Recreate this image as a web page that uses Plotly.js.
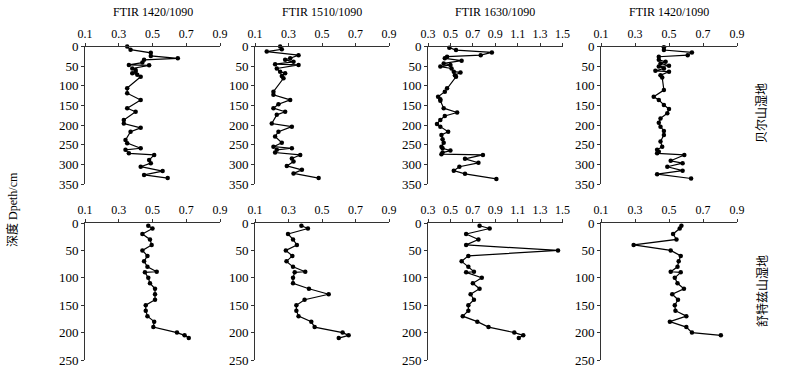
<!DOCTYPE html>
<html>
<head>
<meta charset="utf-8">
<script src="https://cdn.plot.ly/plotly-3.0.1.min.js"></script>
<style>html,body{margin:0;padding:0;background:#fff;}#chart{width:800px;height:371px;}</style>
</head>
<body>
<div id="chart"></div>
<script>
// ---- Data ----
// Top row: 贝尔山湿地
var titles = ["FTIR 1420/1090", "FTIR 1510/1090", "FTIR 1630/1090", "FTIR 1420/1090"];
var siteLabels = ["贝尔山湿地", "舒特兹山湿地"];
var yTitle = "深度 Dpeth/cm";

var depthTop1 = [0, 8, 16, 24, 30, 34, 41, 47, 48, 56, 60, 64, 68, 72, 77, 106, 119, 136, 157, 166, 187, 196, 207, 217, 238, 246, 259, 263, 272, 276, 289, 297, 306, 317, 327, 335];
var valTop1   = [0.35, 0.37, 0.49, 0.49, 0.65, 0.45, 0.44, 0.36, 0.48, 0.38, 0.40, 0.40, 0.38, 0.41, 0.43, 0.35, 0.35, 0.43, 0.35, 0.40, 0.33, 0.33, 0.43, 0.37, 0.34, 0.35, 0.43, 0.34, 0.36, 0.51, 0.48, 0.49, 0.43, 0.56, 0.45, 0.59];

var depthTop2 = [0, 7, 13, 22, 30, 34, 39, 45, 47, 56, 64, 68, 75, 81, 115, 123, 136, 147, 157, 166, 174, 196, 204, 217, 229, 245, 255, 259, 263, 270, 276, 285, 293, 304, 314, 323, 335];
var valTop2   = [0.25, 0.26, 0.17, 0.36, 0.31, 0.28, 0.33, 0.22, 0.36, 0.23, 0.25, 0.28, 0.26, 0.27, 0.21, 0.21, 0.31, 0.24, 0.21, 0.28, 0.23, 0.20, 0.32, 0.24, 0.22, 0.26, 0.21, 0.32, 0.23, 0.22, 0.37, 0.32, 0.33, 0.29, 0.38, 0.33, 0.48];

var depthTop3 = [3, 9, 15, 22, 26, 30, 36, 43, 47, 51, 56, 64, 66, 73, 77, 106, 115, 128, 134, 138, 157, 168, 177, 187, 197, 204, 217, 225, 236, 245, 255, 259, 265, 270, 274, 276, 286, 296, 306, 316, 324, 337];
var valTop3   = [0.49, 0.55, 0.87, 0.77, 0.47, 0.45, 0.60, 0.44, 0.50, 0.41, 0.51, 0.53, 0.59, 0.54, 0.55, 0.47, 0.45, 0.39, 0.41, 0.41, 0.44, 0.56, 0.45, 0.41, 0.38, 0.41, 0.48, 0.42, 0.43, 0.44, 0.42, 0.43, 0.50, 0.43, 0.42, 0.79, 0.63, 0.75, 0.58, 0.53, 0.63, 0.91];

var depthTop4 = [2, 9, 15, 22, 26, 34, 39, 43, 49, 51, 56, 62, 64, 73, 79, 111, 128, 136, 149, 159, 170, 183, 194, 204, 215, 225, 242, 255, 263, 268, 272, 276, 291, 297, 306, 316, 325, 336];
var valTop4   = [0.47, 0.47, 0.635, 0.61, 0.44, 0.44, 0.48, 0.45, 0.50, 0.44, 0.47, 0.42, 0.50, 0.45, 0.46, 0.47, 0.41, 0.44, 0.47, 0.50, 0.49, 0.45, 0.44, 0.45, 0.47, 0.47, 0.45, 0.46, 0.43, 0.44, 0.43, 0.59, 0.51, 0.58, 0.49, 0.58, 0.43, 0.63];

// Bottom row: 舒特兹山湿地
var depthBot = [5, 10, 20, 30, 40, 50, 60, 70, 80, 89, 90, 100, 110, 120, 130, 140, 150, 160, 170, 180, 190, 200, 205, 210];
var valBot1 = [0.475, 0.50, 0.44, 0.485, 0.495, 0.44, 0.47, 0.45, 0.47, 0.525, 0.455, 0.475, 0.485, 0.515, 0.515, 0.515, 0.46, 0.46, 0.47, 0.51, 0.505, 0.645, 0.69, 0.715];
var valBot2 = [0.377, 0.416, 0.297, 0.327, 0.35, 0.284, 0.323, 0.288, 0.327, 0.40, 0.337, 0.327, 0.327, 0.422, 0.54, 0.396, 0.347, 0.347, 0.36, 0.436, 0.456, 0.623, 0.659, 0.60];
var valBot3 = [0.76, 0.85, 0.64, 0.75, 0.64, 1.46, 0.66, 0.60, 0.66, 0.71, 0.64, 0.78, 0.70, 0.76, 0.68, 0.71, 0.66, 0.66, 0.61, 0.74, 0.84, 1.07, 1.15, 1.11];
var depthBot4 = [5, 10, 20, 30, 40, 50, 60, 70, 80, 89, 90, 100, 110, 120, 130, 140, 150, 160, 170, 180, 190, 200, 205];
var valBot4 = [0.573, 0.563, 0.524, 0.544, 0.292, 0.51, 0.569, 0.557, 0.55, 0.51, 0.569, 0.534, 0.55, 0.588, 0.519, 0.553, 0.534, 0.538, 0.602, 0.505, 0.602, 0.635, 0.805];

var xRanges = [[0.1, 0.9], [0.1, 0.9], [0.3, 1.5], [0.1, 0.9]];
var xTicks = [[0.1, 0.3, 0.5, 0.7, 0.9], [0.1, 0.3, 0.5, 0.7, 0.9], [0.3, 0.5, 0.7, 0.9, 1.1, 1.3, 1.5], [0.1, 0.3, 0.5, 0.7, 0.9]];
var yTopTicks = [0, 50, 100, 150, 200, 250, 300, 350];
var yBotTicks = [0, 50, 100, 150, 200, 250];

// ---- Layout geometry (pixels) ----
var W = 800, H = 371;
var colPx = [[85, 220], [255, 389], [428, 562.5], [601, 737]];
var rowPx = [[46.5, 184], [223, 360]];

var series = [
  [depthTop1, valTop1], [depthTop2, valTop2], [depthTop3, valTop3], [depthTop4, valTop4],
  [depthBot, valBot1], [depthBot, valBot2], [depthBot, valBot3], [depthBot4, valBot4]
];

var serif = "Liberation Serif, Times New Roman, serif";
var axColor = "#333";
var traces = [];
var layout = {
  width: W, height: H,
  margin: {l: 0, r: 0, t: 0, b: 0},
  paper_bgcolor: "#fff", plot_bgcolor: "#fff",
  showlegend: false,
  font: {family: serif, color: "#000", size: 12},
  annotations: []
};

for (var i = 0; i < 8; i++) {
  var row = i < 4 ? 0 : 1;
  var col = i % 4;
  var n = i + 1;
  var xa = "x" + (n === 1 ? "" : n), ya = "y" + (n === 1 ? "" : n);
  traces.push({
    x: series[i][1], y: series[i][0],
    xaxis: xa, yaxis: ya,
    type: "scatter", mode: "lines+markers",
    line: {color: "#000", width: 1.2},
    marker: {color: "#000", size: 4.5},
    cliponaxis: false,
    hoverinfo: "skip"
  });
  var xd = [colPx[col][0] / W, colPx[col][1] / W];
  var yd = [1 - rowPx[row][1] / H, 1 - rowPx[row][0] / H];
  layout["xaxis" + (n === 1 ? "" : n)] = {
    domain: xd, anchor: ya, side: "top",
    range: xRanges[col], tickvals: xTicks[col],
    ticktext: xTicks[col].map(function (v) { return v.toFixed(1); }),
    showgrid: false, zeroline: false,
    showline: true, linecolor: axColor, linewidth: 1,
    ticks: "outside", ticklen: 3, tickcolor: axColor,
    tickfont: {family: serif, size: 12, color: "#000"}
  };
  var yt = row === 0 ? yTopTicks : yBotTicks;
  layout["yaxis" + (n === 1 ? "" : n)] = {
    domain: yd, anchor: xa,
    range: row === 0 ? [350, 0] : [250, 0],
    tickvals: yt,
    showgrid: false, zeroline: false,
    showline: true, linecolor: axColor, linewidth: 1,
    ticks: "outside", ticklen: 3, tickcolor: axColor,
    tickfont: {family: serif, size: 13, color: "#000"}
  };
}

// column titles
for (var c = 0; c < 4; c++) {
  layout.annotations.push({
    text: titles[c], xref: "paper", yref: "paper",
    x: (colPx[c][0] + colPx[c][1]) / 2 / W, y: 1 - 12 / H,
    xanchor: "center", yanchor: "middle", showarrow: false,
    font: {family: serif, size: 12, color: "#000"}
  });
}
// site labels
var siteY = [113, 291];
for (var s = 0; s < 2; s++) {
  layout.annotations.push({
    text: siteLabels[s], xref: "paper", yref: "paper",
    x: 761 / W, y: 1 - siteY[s] / H, textangle: -90,
    xanchor: "center", yanchor: "middle", showarrow: false,
    font: {family: "Noto Sans CJK SC, sans-serif", size: 12, color: "#000"}
  });
}
// y-axis title
layout.annotations.push({
  text: yTitle, xref: "paper", yref: "paper",
  x: 12 / W, y: 1 - 210 / H, textangle: -90,
  xanchor: "center", yanchor: "middle", showarrow: false,
  font: {family: "Liberation Serif, Noto Sans CJK SC, serif", size: 12, color: "#000"}
});

Plotly.newPlot("chart", traces, layout, {displayModeBar: false, staticPlot: true});
</script>
</body>
</html>
